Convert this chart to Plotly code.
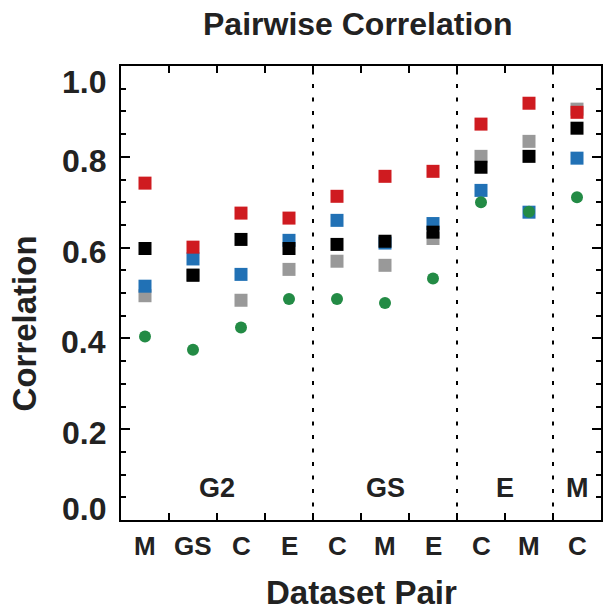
import plotly.graph_objects as go

# ---- data ----
categories = ["M", "GS", "C", "E", "C", "M", "E", "C", "M", "C"]
groups = ["G2", "GS", "E", "M"]
group_sizes = [4, 3, 2, 1]

gray_vals = [0.494, 0.540, 0.484, 0.552, 0.570, 0.561, 0.620, 0.801, 0.834, 0.905]
blue_vals = [0.515, 0.575, 0.541, 0.616, 0.660, 0.610, 0.653, 0.726, 0.678, 0.797]
black_vals = [0.598, 0.539, 0.618, 0.598, 0.607, 0.614, 0.634, 0.777, 0.801, 0.863]
red_vals = [0.742, 0.601, 0.676, 0.665, 0.713, 0.757, 0.768, 0.872, 0.918, 0.898]
green_vals = [0.404, 0.375, 0.424, 0.487, 0.487, 0.478, 0.532, 0.700, 0.679, 0.711]

y_ticks = [0.0, 0.2, 0.4, 0.6, 0.8, 1.0]
y_tick_labels = ["0.0", "0.2", "0.4", "0.6", "0.8", "1.0"]

FONT = "Liberation Sans, Arial, Helvetica, sans-serif"
TXT = "#222222"

x = list(range(1, len(categories) + 1))

fig = go.Figure()
series = [
    ("gray", gray_vals, "#999999", "square", 13),
    ("blue", blue_vals, "#2171b5", "square", 13),
    ("black", black_vals, "#000000", "square", 13),
    ("red", red_vals, "#cf1b20", "square", 13),
    ("green", green_vals, "#238b45", "circle", 12),
]
for name, vals, col, sym, sz in series:
    fig.add_trace(go.Scatter(
        x=x, y=vals, mode="markers", name=name,
        marker=dict(symbol=sym, size=sz, color=col, line=dict(width=0)),
        showlegend=False,
    ))

# group boundaries (dotted lines) and group labels
annotations = []
shapes = []
start = 0.5
for i, (g, n) in enumerate(zip(groups, group_sizes)):
    end = start + n
    annotations.append(dict(
        x=(start + end) / 2, y=0.0705, xref="x", yref="y", text=g,
        showarrow=False, font=dict(family=FONT, size=27, color=TXT, weight="bold"),
        xanchor="center", yanchor="middle",
    ))
    if i < len(groups) - 1:
        shapes.append(dict(
            type="line", xref="x", yref="paper", x0=end, x1=end, y0=0, y1=1,
            line=dict(color="black", width=2, dash="4px,9.5px"), layer="above",
        ))
    start = end

# x category labels
for xi, c in zip(x, categories):
    annotations.append(dict(
        x=xi, y=-0.0573, xref="x", yref="paper", text=c, showarrow=False,
        font=dict(family=FONT, size=26, color=TXT, weight="bold"),
        xanchor="center", yanchor="middle",
    ))

# y tick labels
for v, lab in zip(y_ticks, y_tick_labels):
    if v >= 1.0:
        shift = -16
    elif v <= 0.0:
        shift = 11
    else:
        shift = -4
    annotations.append(dict(
        x=0, y=v, xref="paper", yref="y", text=lab, showarrow=False,
        font=dict(family=FONT, size=32, color=TXT, weight="bold"),
        xanchor="right", yanchor="middle", xshift=-13, yshift=shift,
    ))

# titles
annotations.append(dict(
    x=0.4917, y=1.0925, xref="paper", yref="paper", text="Pairwise Correlation",
    showarrow=False, font=dict(family=FONT, size=32, color=TXT, weight="bold"),
    xanchor="center", yanchor="middle",
))
annotations.append(dict(
    x=0.502, y=-0.1586, xref="paper", yref="paper", text="Dataset Pair",
    showarrow=False, font=dict(family=FONT, size=33, color=TXT, weight="bold"),
    xanchor="center", yanchor="middle",
))
annotations.append(dict(
    x=-0.2012, y=0.4339, xref="paper", yref="paper", text="Correlation",
    showarrow=False, textangle=-90,
    font=dict(family=FONT, size=33, color=TXT, weight="bold"),
    xanchor="center", yanchor="middle",
))

boundaries = [i + 0.5 for i in range(len(categories) + 1)]

fig.update_layout(
    width=605, height=613,
    margin=dict(l=121, r=2, t=66, b=93),
    paper_bgcolor="white", plot_bgcolor="white",
    xaxis=dict(
        range=[0.5, len(categories) + 0.5], tickvals=boundaries, showticklabels=False,
        ticks="inside", ticklen=7, tickwidth=2, tickcolor="black",
        showline=True, linecolor="black", linewidth=2, mirror="ticks",
        showgrid=False, zeroline=False,
    ),
    yaxis=dict(
        range=[0, 1.0], tickvals=y_ticks, showticklabels=False,
        ticks="inside", ticklen=9, tickwidth=2, tickcolor="black",
        minor=dict(dtick=0.05, ticks="inside", ticklen=5, tickwidth=2, tickcolor="black", showgrid=False),
        showline=True, linecolor="black", linewidth=2, mirror="ticks",
        showgrid=False, zeroline=False,
    ),
    annotations=annotations,
    shapes=shapes,
    showlegend=False,
)

fig.write_html("out.html")
